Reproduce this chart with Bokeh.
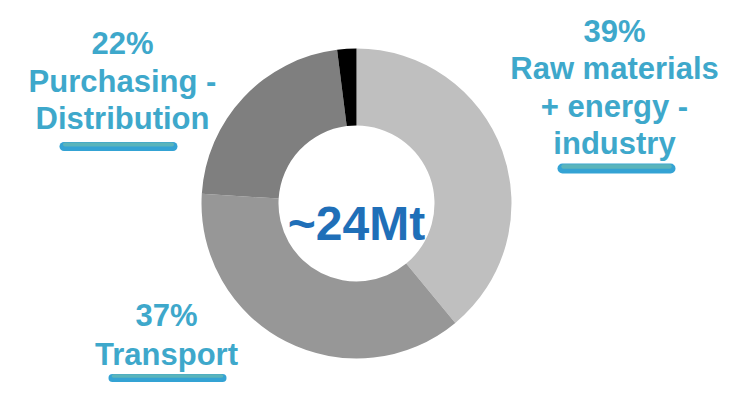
import math
from bokeh.plotting import figure
from bokeh.models import Range1d, ColumnDataSource
from bokeh.core.properties import value
from bokeh.embed import file_html
from bokeh.resources import INLINE

# ---- data ----
shares = [39, 37, 22, 2]
categories = ["Raw materials\n+ energy -\nindustry", "Transport", "Purchasing -\nDistribution", "Other"]
slice_colors = ["#bfbfbf", "#979797", "#7f7f7f", "#000000"]
total_label = "~24Mt"

# ---- layout (reference pixel coords; y measured from top) ----
H = 398
def Y(y):
    return H - y

W_FIG, H_FIG = 719, 382
cx, cy = 356, Y(203)
r_out, r_in = 155, 78

p = figure(width=W_FIG, height=H_FIG, output_backend="svg", toolbar_location=None,
           x_range=Range1d(0, W_FIG), y_range=Range1d(Y(H_FIG), Y(0)),
           min_border=0, outline_line_color=None)
p.axis.visible = False
p.grid.visible = False
p.background_fill_color = "white"
p.border_fill_color = "white"

# wedges
tot = sum(shares)
starts, ends = [], []
acc = 0.0
for s in shares:
    starts.append(math.pi / 2 - 2 * math.pi * acc / tot)
    acc += s
    ends.append(math.pi / 2 - 2 * math.pi * acc / tot)
src = ColumnDataSource(dict(x=[cx] * len(shares), y=[cy] * len(shares),
                            start=starts, end=ends, color=slice_colors))
p.annular_wedge(x="x", y="y", inner_radius=r_in, outer_radius=r_out,
                start_angle="start", end_angle="end", direction="clock",
                fill_color="color", line_color=None, source=src)

# labels: (center x, first baseline, line spacing, underline x0, x1, y, width)
label_layout = [
    (614, 30.5, 37.5, 557, 675, 168, 10),   # Raw materials
    (166, 315, 39, 108, 226, 377.5, 8),     # Transport
    (122, 43, 37.5, 59, 177, 146, 9),       # Purchasing
]
label_color = "#3ea8cb"
font = value("Liberation Sans")
for i, (lx, by, dy, ux0, ux1, uy, uw) in enumerate(label_layout):
    lines = [f"{shares[i]}%"] + categories[i].split("\n")
    xs = [lx] * len(lines)
    ys = [Y(by + k * dy) for k in range(len(lines))]
    p.text(x=xs, y=ys, text=lines, text_font=font, text_font_style="bold",
           text_font_size="31px", text_align="center", text_baseline="alphabetic",
           text_color=label_color)
    # underline bar with rounded caps (two tones for the gradient)
    half = uw / 2
    p.line(x=[ux0 + half, ux1 - half], y=[Y(uy), Y(uy)], line_width=uw,
           line_color="#34a3d4", line_cap="round")
    p.line(x=[ux0 + half + 1, ux1 - half - 1], y=[Y(uy - 2), Y(uy - 2)], line_width=uw * 0.45,
           line_color="#5ab4bb", line_cap="round")

# centre total
p.text(x=[cx], y=[Y(223)], text=[total_label], text_font=font, text_font_style="bold",
       text_font_size="48px", text_align="center", text_baseline="alphabetic",
       text_color="#1f6fb8")

open("out.html", "w").write(file_html(p, INLINE))
